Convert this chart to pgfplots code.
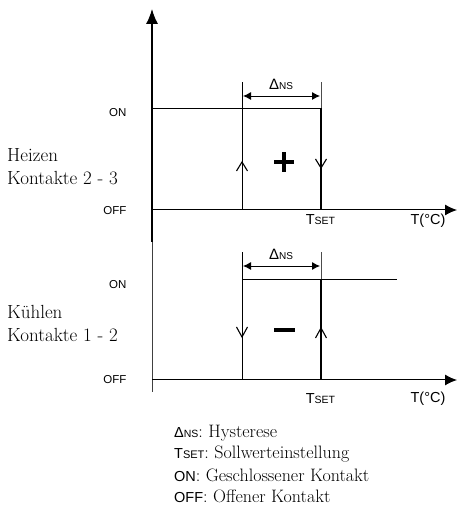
\documentclass[border=0pt]{standalone}
\usepackage{pgfplots}
\pgfplotsset{compat=1.18}
\usepackage{fontspec}
\setsansfont{Liberation Sans}
\usetikzlibrary{arrows.meta}
\newcommand{\tset}{{\sffamily\fontsize{14.5}{16}\selectfont T\fontsize{10.5}{12}\selectfont SET}}
\newcommand{\dns}{{\sffamily\fontsize{15}{16}\selectfont Δ\fontsize{10}{11}\selectfont NS}}
\newcommand{\ltset}{{\sffamily\fontsize{14.5}{16}\selectfont T\fontsize{11}{12}\selectfont SET}}
\newcommand{\ldns}{{\sffamily\fontsize{14.5}{16}\selectfont Δ\fontsize{10.5}{11}\selectfont NS}}
\begin{document}
\begin{tikzpicture}
\begin{axis}[width=457pt,height=510pt,scale only axis,hide axis,
  xmin=0,xmax=457,ymin=0,ymax=510,clip=false,
  every axis plot/.append style={line cap=butt}]
% vertical axis
\addplot[black,line width=1.3pt,-{Latex[length=15pt,width=12pt]}] coordinates {(152,268)(152,501)};
\addplot[black!75,line width=0.8pt] coordinates {(152,118)(152,268)};
% ---------- upper panel (Heizen)
\addplot[black,line width=1pt,-{Latex[length=12pt,width=11pt]}] coordinates {(152,300)(457,300)};
\addplot[black,line width=0.9pt] coordinates {(152,402)(321,402)};
\addplot[black,line width=0.9pt] coordinates {(242,300)(242,428)};
\addplot[black!70,line width=0.8pt] coordinates {(321,402)(321,428)};
\addplot[black,line width=1.4pt] coordinates {(321,300)(321,402)};
\addplot[black,line width=0.9pt,{Latex[length=8pt,width=8pt]}-{Latex[length=8pt,width=8pt]}] coordinates {(243,414)(320,414)};
\addplot[black,line width=1.1pt] coordinates {(236.5,339)(242,348)(247.5,339)};
\addplot[black,line width=1.1pt] coordinates {(315.5,351)(321,342)(326.5,351)};
\addplot[black,line width=3.4pt] coordinates {(274,348)(294,348)};
\addplot[black,line width=3.4pt] coordinates {(284,338)(284,358)};
% ---------- lower panel (Kuehlen)
\addplot[black,line width=1pt,-{Latex[length=12pt,width=11pt]}] coordinates {(152,130)(457,130)};
\addplot[black,line width=0.9pt] coordinates {(242,231)(397,231)};
\addplot[black,line width=0.9pt] coordinates {(242,130)(242,258)};
\addplot[black!70,line width=0.8pt] coordinates {(321,231)(321,258)};
\addplot[black,line width=1.4pt] coordinates {(321,130)(321,231)};
\addplot[black,line width=0.9pt,{Latex[length=8pt,width=8pt]}-{Latex[length=8pt,width=8pt]}] coordinates {(243,244)(320,244)};
\addplot[black,line width=1.1pt] coordinates {(236.5,183)(242,173)(247.5,183)};
\addplot[black,line width=1.1pt] coordinates {(315.5,172)(321,182)(326.5,172)};
\addplot[black,line width=3.4pt] coordinates {(274,180)(295,180)};
% ---------- labels
\node[anchor=east,font=\sffamily\fontsize{11.5}{12}\selectfont] at (axis cs:130,397) {ON};
\node[anchor=east,font=\sffamily\fontsize{11.5}{12}\selectfont] at (axis cs:130,299) {OFF};
\node[anchor=east,font=\sffamily\fontsize{11.5}{12}\selectfont] at (axis cs:130,225) {ON};
\node[anchor=east,font=\sffamily\fontsize{11.5}{12}\selectfont] at (axis cs:130,130) {OFF};
\node at (axis cs:320.5,290) {\tset};
\node at (axis cs:320.5,111) {\tset};
\node[font=\sffamily\fontsize{14.5}{16}\selectfont] at (axis cs:428,289) {T(°C)};
\node[font=\sffamily\fontsize{14.5}{16}\selectfont] at (axis cs:428,111) {T(°C)};
\node at (axis cs:281,426) {\dns};
\node at (axis cs:281,256) {\dns};
\node[anchor=west,inner sep=0pt,font=\fontsize{19}{22}\selectfont] at (axis cs:7,355) {Heizen};
\node[anchor=west,inner sep=0pt,font=\fontsize{19}{22}\selectfont] at (axis cs:7,332) {Kontakte 2 - 3};
\node[anchor=west,inner sep=0pt,font=\fontsize{19}{22}\selectfont] at (axis cs:7,198) {Kühlen};
\node[anchor=west,inner sep=0pt,font=\fontsize{19}{22}\selectfont] at (axis cs:7,175) {Kontakte 1 - 2};
% legend
\node[anchor=west,inner sep=0pt,font=\fontsize{18}{20}\selectfont] at (axis cs:174,77) {\ldns: Hysterese};
\node[anchor=west,inner sep=0pt,font=\fontsize{18}{20}\selectfont] at (axis cs:174,56) {\ltset: Sollwerteinstellung};
\node[anchor=west,inner sep=0pt,font=\fontsize{18}{20}\selectfont] at (axis cs:174,35) {{\sffamily\fontsize{14.5}{16}\selectfont ON}: Geschlossener Kontakt};
\node[anchor=west,inner sep=0pt,font=\fontsize{18}{20}\selectfont] at (axis cs:174,14) {{\sffamily\fontsize{14.5}{16}\selectfont OFF}: Offener Kontakt};
\end{axis}
\pgfresetboundingbox
\path (current axis.south west) rectangle (current axis.north east);
\end{tikzpicture}
\end{document}
